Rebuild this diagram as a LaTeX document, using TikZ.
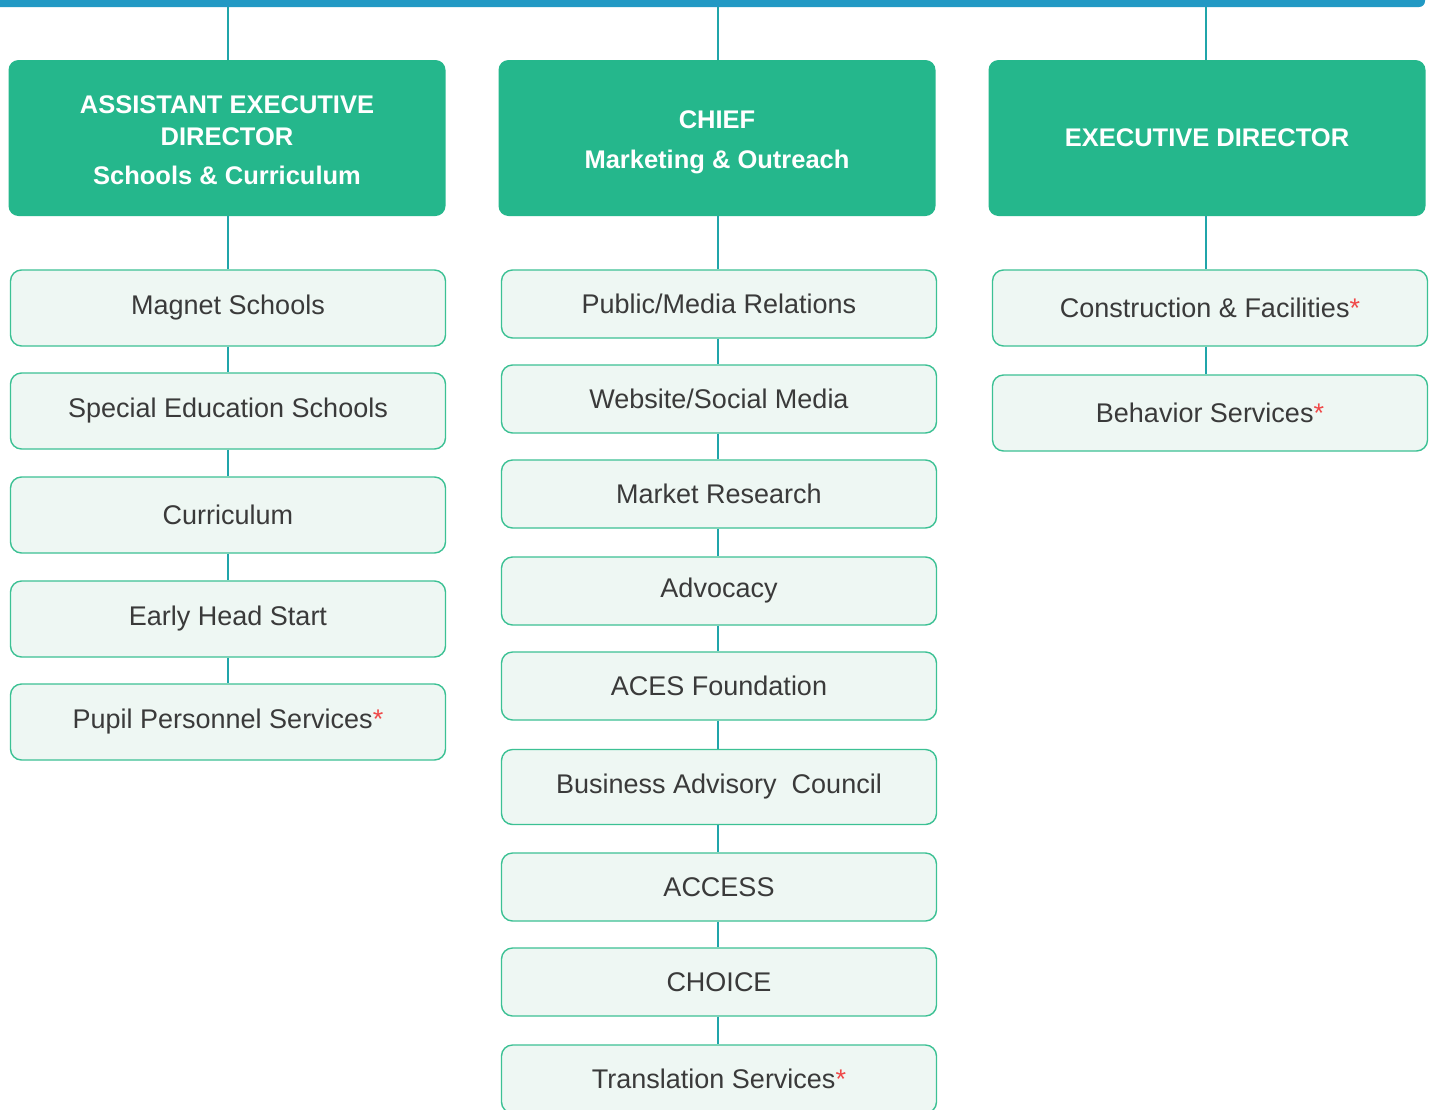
\documentclass[tikz,border=0pt]{standalone}
\usepackage{fontspec}
\setmainfont{Liberation Sans}
\begin{document}
\begin{tikzpicture}[x=1pt,y=-1pt,
  hdr/.style={draw=none,fill=hdrgreen,rounded corners=10pt,minimum width=437pt,minimum height=156pt,
    text=white,font=\fontsize{25.5}{32}\selectfont\bfseries,align=center,inner sep=0pt},
  sub/.style={draw=subline,line width=1.4pt,fill=subfill,rounded corners=11pt,minimum width=435pt,
    text=txtgray,font=\fontsize{27}{30}\selectfont,inner sep=0pt},
  conn/.style={draw=connteal,line width=2.6pt},
  topbar/.style={fill=barblue,rounded corners=6pt,draw=none,minimum width=1440pt,minimum height=24pt,inner sep=0pt}]
\definecolor{hdrgreen}{HTML}{25B78C}
\definecolor{subline}{HTML}{3CC194}
\definecolor{subfill}{HTML}{EEF7F3}
\definecolor{txtgray}{HTML}{3A3A3A}
\definecolor{connteal}{HTML}{20A5AA}
\definecolor{barblue}{HTML}{2299C4}
\definecolor{starred}{HTML}{F04848}
\newcommand{\rstar}{\textcolor{starred}{*}}
\newcommand{\hdrlines}[2]{\raisebox{#1}[\height][\depth]{\parbox{420pt}{\centering #2}}}
\useasboundingbox (0,0) rectangle (1432,1109);
\fill[white] (0,0) rectangle (1432,1109);
% top bar
\node[topbar] (bar) at (705,-5) {};
% headers
\node[hdr] (h1) at (227,138) {\hdrlines{-2pt}{ASSISTANT EXECUTIVE\\DIRECTOR\\[7pt]Schools \& Curriculum}};
\node[hdr] (h2) at (717,138) {\hdrlines{-4pt}{CHIEF\\[8pt]Marketing \& Outreach}};
\node[hdr] (h3) at (1207,138) {EXECUTIVE DIRECTOR};
% left column
\node[sub,minimum height=76pt] (l1) at (228,308) {Magnet Schools};
\node[sub,minimum height=76pt] (l2) at (228,411) {Special Education Schools};
\node[sub,minimum height=76pt] (l3) at (228,515) {Curriculum};
\node[sub,minimum height=76pt] (l4) at (228,619) {Early Head Start};
\node[sub,minimum height=76pt] (l5) at (228,722) {Pupil Personnel Services\rstar};
% middle column
\node[sub,minimum height=68pt] (m1) at (719,304) {Public/Media Relations};
\node[sub,minimum height=68pt] (m2) at (719,399) {Website/Social Media};
\node[sub,minimum height=68pt] (m3) at (719,494) {Market Research};
\node[sub,minimum height=68pt] (m4) at (719,591) {Advocacy};
\node[sub,minimum height=68pt] (m5) at (719,686) {ACES Foundation};
\node[sub,minimum height=75pt] (m6) at (719,787) {Business Advisory\ \ Council};
\node[sub,minimum height=68pt] (m7) at (719,887) {ACCESS};
\node[sub,minimum height=68pt] (m8) at (719,982) {CHOICE};
\node[sub,minimum height=68pt] (m9) at (719,1079) {Translation Services\rstar};
% right column
\node[sub,minimum height=76pt] (r1) at (1210,308) {Construction \& Facilities\rstar};
\node[sub,minimum height=76pt] (r2) at (1210,413) {Behavior Services\rstar};
% anchor coordinates for the vertical lines
\path (h1.north) ++(1,0) coordinate (h1n);
\path (h2.north) ++(1,0) coordinate (h2n);
\path (h3.north) ++(-1,0) coordinate (h3n);
% connectors from bar
\draw[conn] (h1n) -- (h1n |- bar.south);
\draw[conn] (h2n) -- (h2n |- bar.south);
\draw[conn] (h3n) -- (h3n |- bar.south);
% header to first sub
\draw[conn] (h1n |- h1.south) -- (h1n |- l1.north);
\draw[conn] (h2n |- h2.south) -- (h2n |- m1.north);
\draw[conn] (h3n |- h3.south) -- (h3n |- r1.north);
% chains
\foreach \a/\b in {l1/l2,l2/l3,l3/l4,l4/l5}{\draw[conn] (h1n |- \a.south) -- (h1n |- \b.north);}
\foreach \a/\b in {m1/m2,m2/m3,m3/m4,m4/m5,m5/m6,m6/m7,m7/m8,m8/m9}{\draw[conn] (h2n |- \a.south) -- (h2n |- \b.north);}
\draw[conn] (h3n |- r1.south) -- (h3n |- r2.north);
\end{tikzpicture}
\end{document}
